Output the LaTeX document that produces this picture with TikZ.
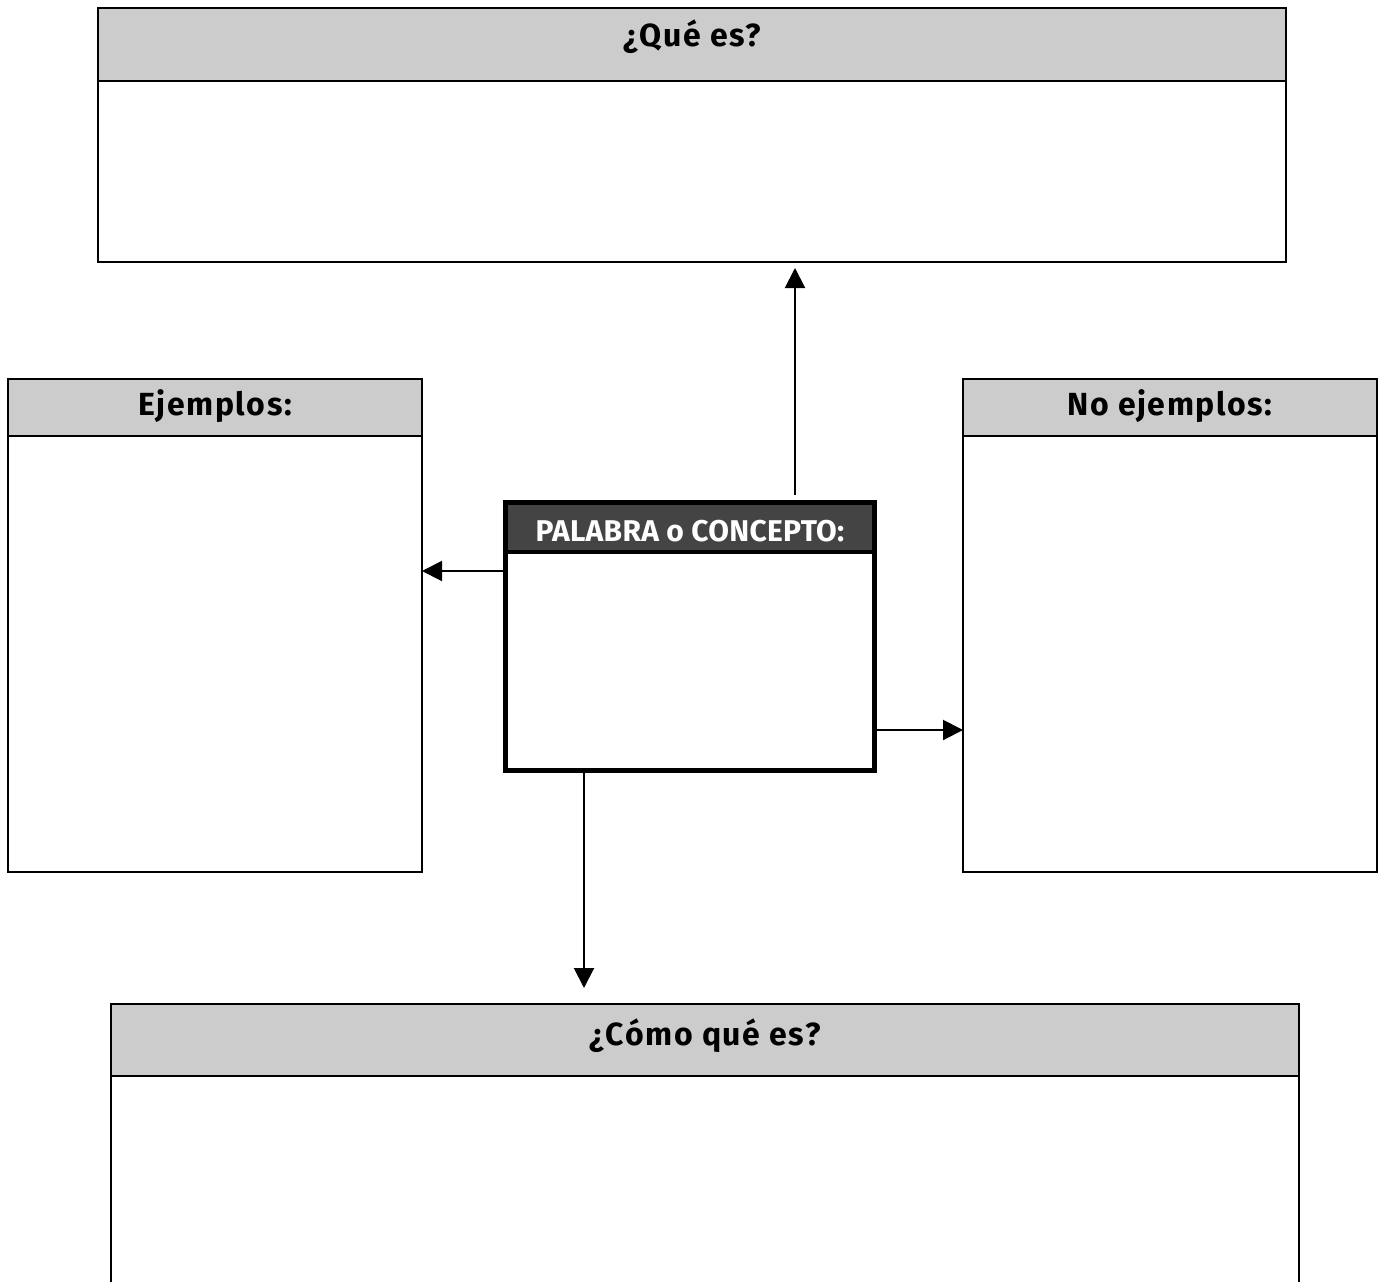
\documentclass[tikz,border=0pt]{standalone}
\usepackage{fontspec}
\setmainfont{Fira Sans}
\usetikzlibrary{arrows.meta}
\definecolor{hdrgray}{HTML}{CCCCCC}
\definecolor{hdrdark}{HTML}{444444}
\tikzset{
  box/.style={draw=black, line width=2pt, fill=white, inner sep=0pt, outer sep=0pt, anchor=north west},
  hdr/.style={draw=black, line width=2pt, fill=hdrgray, inner sep=0pt, outer sep=0pt, anchor=north west},
  hdrtxt/.style={inner sep=0pt, anchor=base,
    font=\fontsize{32}{38}\selectfont\bfseries\addfontfeature{LetterSpace=5}},
  cbox/.style={draw=black, line width=5pt, fill=white, inner sep=0pt, outer sep=0pt, anchor=north west},
  chdr/.style={draw=black, line width=4pt, fill=hdrdark, inner sep=0pt, outer sep=0pt, anchor=north west},
  chdrtxt/.style={inner sep=0pt, anchor=base, text=white,
    font=\fontsize{30}{36}\selectfont\bfseries\addfontfeature{LetterSpace=1}},
  arr/.style={line width=2pt, -{Triangle[length=20pt,width=20pt]}},
}
\begin{document}
\begin{tikzpicture}[x=1pt,y=-1pt]
\clip (0,0) rectangle (1385,1282);
\fill[white] (0,0) rectangle (1385,1282);
% top box
\node[box, minimum width=1188pt, minimum height=254pt] (que) at (98,8) {};
\node[hdr, minimum width=1188pt, minimum height=73pt] (queh) at (98,8) {};
\node[hdrtxt] (queT) at (queh.center |- 0,46) {¿Qué es?};
% left box
\node[box, minimum width=414pt, minimum height=493pt] (ej) at (8,379) {};
\node[hdr, minimum width=414pt, minimum height=57pt] (ejh) at (8,379) {};
\node[hdrtxt] (ejT) at (ejh.center |- 0,415) {Ejemplos:};
% right box
\node[box, minimum width=414pt, minimum height=493pt] (noej) at (963,379) {};
\node[hdr, minimum width=414pt, minimum height=57pt] (noejh) at (963,379) {};
\node[hdrtxt] (noejT) at (noejh.center |- 0,415) {No ejemplos:};
% bottom box
\node[box, minimum width=1188pt, minimum height=330pt] (como) at (111,1004) {};
\node[hdr, minimum width=1188pt, minimum height=72pt] (comoh) at (111,1004) {};
\node[hdrtxt] (comoT) at (comoh.center |- 0,1045) {¿Cómo qué es?};
% center box
\node[cbox, minimum width=369pt, minimum height=268pt] (cb) at (505.5,502.5) {};
\node[chdr, minimum width=369pt, minimum height=49.5pt] (cbh) at (505.5,502.5) {};
\draw[line width=5pt] (cb.north west) rectangle (cb.south east);
\node[chdrtxt] (cbT) at (cbh.center |- 0,541) {PALABRA o CONCEPTO:};
% connectors
\draw[arr, shorten <=8pt, shorten >=6pt] ([xshift=105pt]cb.north) -- ([xshift=105pt]cb.north |- que.south);
\draw[arr] ([yshift=65.5pt]cb.west) -- ([yshift=65.5pt]cb.west -| ej.east);
\draw[arr] ([yshift=-93.5pt]cb.east) -- ([yshift=-93.5pt]cb.east -| noej.west);
\draw[arr, shorten >=16pt] ([xshift=-106pt]cb.south) -- ([xshift=-106pt]cb.south |- como.north);
\end{tikzpicture}
\end{document}
